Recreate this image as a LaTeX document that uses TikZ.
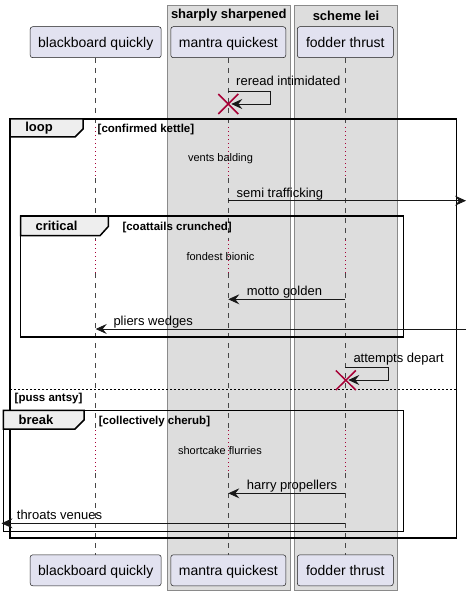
\documentclass[tikz,border=0pt]{standalone}
\usepackage{fontspec}
\setmainfont{Liberation Sans}
\usetikzlibrary{arrows.meta,positioning,calc}

\definecolor{partfill}{HTML}{E2E2F0}
\definecolor{partline}{HTML}{181818}
\definecolor{boxfill}{HTML}{DDDDDD}
\definecolor{boxline}{HTML}{8A8A8A}
\definecolor{tabfill}{HTML}{EEEEEE}
\definecolor{destroyred}{HTML}{A80036}

\begin{document}
\begin{tikzpicture}[
    x=1pt, y=-1pt,
    >={Stealth[length=11pt,width=10pt,inset=4pt]},
    font=\fontsize{13}{15}\selectfont,
    participant/.style={
		rectangle,
		rounded corners=2.5pt,
		draw=partline,
		line width=0.5pt,
		fill=partfill,
		text centered,
		minimum height=31pt,
		inner sep=0pt,
		text height=12pt,
		text depth=2.1pt,
		font=\fontsize{14}{16}\selectfont
	},
	grp/.style={
		draw=boxline,
		fill=boxfill,
		line width=1pt
	},
	grptitle/.style={
		font=\bfseries\fontsize{13}{15}\selectfont,
		inner sep=0pt
	},
	lifeline/.style={draw=partline!80, line width=0.5pt, dash pattern=on 5pt off 5pt},
	delayline/.style={draw=destroyred, line width=0.8pt, dash pattern=on 1pt off 3pt},
	fragbox/.style={draw=black, line width=1.5pt},
	fragtab/.style={draw=black, line width=1.5pt, fill=tabfill},
	tablabel/.style={font=\bfseries\fontsize{13}{15}\selectfont, inner sep=0pt},
	guard/.style={
		font=\bfseries\fontsize{11.5}{13}\selectfont,
		anchor=west,
		inner sep=0pt,
		text height=8.5pt,
		text depth=2.4pt,
		yshift=-0.8pt
	},
	msg/.style={draw=partline, line width=0.8pt},
	msglabel/.style={anchor=west, inner sep=0pt, text height=9.3pt, text depth=2.7pt, yshift=-1.5pt},
	delaylabel/.style={font=\fontsize{11}{13}\selectfont, inner sep=0pt},
	destroy/.style={draw=destroyred, line width=1.5pt}
  ]
  \useasboundingbox (0,0) rectangle (471,596);

  % the two boxes behind the participants
  \draw [grp] (167,6) rectangle (290.7,590.7);
  \draw [grp] (294.3,6) rectangle (397.7,590.7);
  \node [grptitle] (sharptitle) at (228.8,15.5) {sharply sharpened};
  \node [grptitle] (schemetitle) at (346,15.5) {scheme lei};

  % We start by placing the participants
  \node [participant, minimum width=131pt] (bq) at (95.7,42.2) {blackboard quickly};
  \node [participant, minimum width=115pt] (mq) at (228.3,42.2) {mantra quickest};
  \node [participant, minimum width=96pt] (fq) at (345.3,42.2) {fodder thrust};

  \node [participant, minimum width=131pt, below=496.6pt of bq] (bq2) {blackboard quickly};
  \node [participant, minimum width=115pt, below=496.6pt of mq] (mq2) {mantra quickest};
  \node [participant, minimum width=96pt, below=496.6pt of fq] (fq2) {fodder thrust};

  % rows of the messages and delays
  \coordinate (reread) at (0,91);
  \coordinate (rereadback) at (0,104);
  \coordinate (d1s) at (0,127);
  \coordinate (d1e) at (0,178);
  \coordinate (semi) at (0,200.7);
  \coordinate (d2s) at (0,240);
  \coordinate (d2e) at (0,273);
  \coordinate (motto) at (0,299.3);
  \coordinate (pliers) at (0,329);
  \coordinate (attempts) at (0,367);
  \coordinate (attemptsback) at (0,380);
  \coordinate (d3s) at (0,430);
  \coordinate (d3e) at (0,473);
  \coordinate (harry) at (0,493.3);
  \coordinate (throats) at (0,523.3);
  \coordinate (eastend) at (466,0);
  \coordinate (westend) at (1.5,0);

  % lifelines
  \foreach \p/\q in {bq/bq2, mq/mq2, fq/fq2} {
    \draw [lifeline] (\p.south) -- (\p |- d1s);
    \draw [delayline] (\p |- d1s) -- (\p |- d1e);
    \draw [lifeline] (\p |- d1e) -- (\p |- d2s);
    \draw [delayline] (\p |- d2s) -- (\p |- d2e);
    \draw [lifeline] (\p |- d2e) -- (\p |- d3s);
    \draw [delayline] (\p |- d3s) -- (\p |- d3e);
    \draw [lifeline] (\p |- d3e) -- (\q.north);
  }

  % loop
  \draw [fragbox] (10,119) rectangle (456.7,538);
  \draw [fragtab] (10,119) -- (83,119) -- (83,129) -- (75,137) -- (10,137) -- cycle;
  \node [tablabel] (looplabel) at (39,128.5) {loop};
  \node [guard] (loopguard) at (97.5,129) {[confirmed kettle]};
  \draw [draw=black, line width=1pt, dash pattern=on 2pt off 2pt] (10,389.3) -- (456.7,389.3);
  \node [guard] (elseguard) at (14.5,397.5) {[puss antsy]};

  % critical
  \draw [fragbox] (20.7,216) rectangle (403.7,337);
  \draw [fragtab] (20.7,216) -- (108.3,216) -- (108.3,226.5) -- (100,235.7) -- (20.7,235.7) -- cycle;
  \node [tablabel] (critlabel) at (56.5,226) {critical};
  \node [guard] (critguard) at (122.3,226.7) {[coattails crunched]};

  % break
  \draw [fragbox] (3.3,410.3) rectangle (403.7,531.3);
  \draw [fragtab] (3.3,410.3) -- (84,410.3) -- (84,420) -- (75,429) -- (3.3,429) -- cycle;
  \node [tablabel] (breaklabel) at (36,420) {break};
  \node [guard] (breakguard) at (98.7,420.7) {[collectively cherub]};

  % delays
  \node [delaylabel] (vents) at (220.5,159) {vents balding};
  \node [delaylabel] (fondest) at (220.5,257) {fondest bionic};
  \node [delaylabel] (shortcake) at (220,450.7) {shortcake flurries};

  % messages
  \draw [msg,->] (mq |- reread) -- ++(41.7,0) |- ($(mq |- rereadback)+(3,0)$);
  \node [msglabel] at (236,81) {reread intimidated};

  \draw [msg,->] (mq |- semi) -- (eastend |- semi);
  \node [msglabel] at (236.5,192.3) {semi trafficking};

  \draw [msg,->] (fq |- motto) -- (mq |- motto);
  \node [msglabel] at (246.7,290.7) {motto golden};

  \draw [msg,->] (eastend |- pliers) -- (bq |- pliers);
  \node [msglabel] at (113.3,320.7) {pliers wedges};

  \draw [msg,->] (fq |- attempts) -- ++(42.7,0) |- ($(fq |- attemptsback)+(3,0)$);
  \node [msglabel] at (353.3,357.3) {attempts depart};

  \draw [msg,->] (fq |- harry) -- (mq |- harry);
  \node [msglabel] at (246.7,484.3) {harry propellers};

  \draw [msg,->] (fq |- throats) -- (westend |- throats);
  \node [msglabel] at (16.7,514.3) {throats venues};

  % destroyed participants
  \draw [destroy] ($(mq |- rereadback)+(-10,-10)$) -- ($(mq |- rereadback)+(10,10)$)
                  ($(mq |- rereadback)+(-10,10)$) -- ($(mq |- rereadback)+(10,-10)$);
  \draw [destroy] ($(fq |- attemptsback)+(-9.5,-9.5)$) -- ($(fq |- attemptsback)+(10.5,10)$)
                  ($(fq |- attemptsback)+(-9.5,10)$) -- ($(fq |- attemptsback)+(10.5,-9.5)$);

\end{tikzpicture}
\end{document}
